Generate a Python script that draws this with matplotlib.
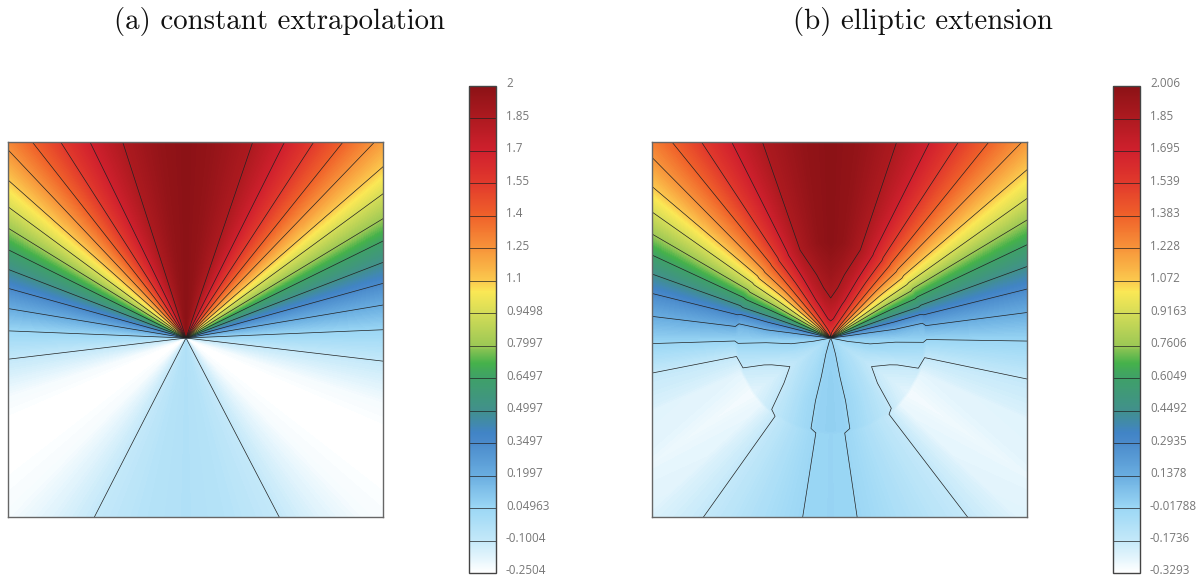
import matplotlib
matplotlib.use("Agg")
import matplotlib.pyplot as plt
import numpy as np
from matplotlib.cm import ScalarMappable
from matplotlib.colors import LinearSegmentedColormap, Normalize

W, H = 1203, 578

# colorbar tick labels
ticks_a = ["2", "1.85", "1.7", "1.55", "1.4", "1.25", "1.1", "0.9498", "0.7997", "0.6497",
           "0.4997", "0.3497", "0.1997", "0.04963", "-0.1004", "-0.2504"]
ticks_b = ["2.006", "1.85", "1.695", "1.539", "1.383", "1.228", "1.072", "0.9163", "0.7606", "0.6049",
           "0.4492", "0.2935", "0.1378", "-0.01788", "-0.1736", "-0.3293"]

# colormap (fraction, colour)
cmap_stops = [(0, "#ffffff"), (0.067, "#c3e8f9"), (0.133, "#9bd7f5"), (0.2, "#69ade0"), (0.267, "#4a8acb"),
              (0.287, "#4184c6"), (0.333, "#41908c"), (0.4, "#3fa068"), (0.431, "#45b14b"), (0.467, "#9cc855"),
              (0.533, "#d4dc57"), (0.578, "#fbe855"), (0.6, "#fbc94e"), (0.667, "#f7943a"), (0.733, "#f0622a"),
              (0.8, "#e23a2c"), (0.867, "#d0202d"), (0.933, "#ae1a20"), (1, "#8c1216")]

# panel a: value against ray angle (deg from straight up), one half per side
angles_a_right = [0, 8, 18.8, 26.7, 33.1, 38.7, 43.9, 49, 53.8, 58.8, 63.8, 69, 74.5, 80.5, 87.6, 96.7,
                  108, 114, 120, 127, 135, 143, 152.5, 166, 180]
angles_a_left = [0, 8, 17.9, 26.1, 32.6, 38.1, 43.4, 48.4, 53.6, 58.3, 63.6, 68.9, 74.4, 80.6, 87.7, 96.8,
                 108, 114, 120, 127, 135, 143, 152.9, 166, 180]
values_a = [2.0, 1.96, 1.85, 1.7, 1.55, 1.4, 1.25, 1.1, 0.9498, 0.7997, 0.6497, 0.4997, 0.3497, 0.1997,
            0.04963, -0.1004, -0.22, -0.245, -0.25, -0.245, -0.225, -0.17, -0.1004, -0.05, -0.03]
radii_a = [0.5, 300]

# panel b: same idea, but the values change with distance from the centre
angles_b_right = [0, 8, 18.6, 26.8, 33.1, 38.9, 44.3, 49.4, 54.6, 59, 64.6, 70, 76, 82.6, 90.9, 101.8,
                  112, 125, 134, 142.6, 158, 171.5, 180]
angles_b_left = [0, 8, 19.2, 26.8, 33.4, 39, 44.7, 49.7, 54.8, 59.8, 65.1, 70.3, 76, 83.1, 91.8, 101.1,
                 112, 125, 134, 144.6, 158, 171, 180]
radii_b = [0.5, 5, 17, 40, 65, 93, 96, 300]
values_b = [
    [1.55, 1.54, 1.5, 1.45, 1.4, 1.32, 1.2, 1.07, 0.92, 0.76, 0.6, 0.45, 0.29, 0.14, 0.03, -0.02, -0.04, -0.06, -0.05, -0.04, -0.02, 0.0, 0.0],
    [1.55, 1.54, 1.5, 1.45, 1.4, 1.32, 1.2, 1.07, 0.92, 0.76, 0.6, 0.45, 0.29, 0.14, 0.03, -0.02, -0.04, -0.06, -0.05, -0.04, -0.02, 0.0, 0.0],
    [1.695, 1.68, 1.6, 1.53, 1.44, 1.34, 1.2, 1.07, 0.92, 0.76, 0.6, 0.45, 0.29, 0.14, 0.03, -0.02, -0.06, -0.1, -0.08, -0.07, -0.03, 0.0, 0.0],
    [1.85, 1.82, 1.72, 1.62, 1.5, 1.37, 1.22, 1.07, 0.92, 0.77, 0.61, 0.46, 0.29, 0.13, 0.01, -0.03, -0.1, -0.15, -0.12, -0.09, -0.05, 0.0, 0.01],
    [1.93, 1.89, 1.79, 1.66, 1.52, 1.38, 1.22, 1.07, 0.92, 0.77, 0.61, 0.46, 0.29, 0.13, 0.0, -0.07, -0.165, -0.21, -0.1736, -0.12, -0.05, 0.0, 0.01],
    [2.0, 1.96, 1.85, 1.7, 1.55, 1.39, 1.24, 1.09, 0.93, 0.78, 0.62, 0.47, 0.27, 0.09, 0.0, -0.11, -0.2, -0.25, -0.21, -0.15, -0.07, 0.0, 0.01],
    [2.006, 1.97, 1.85, 1.695, 1.539, 1.383, 1.228, 1.072, 0.9163, 0.7606, 0.6049, 0.4492, 0.2935, 0.1378, -0.018, -0.1736, -0.26, -0.3, -0.27, -0.1736, -0.09, -0.018, -0.008],
    [2.006, 1.97, 1.85, 1.695, 1.539, 1.383, 1.228, 1.072, 0.9163, 0.7606, 0.6049, 0.4492, 0.2935, 0.1378, -0.018, -0.1736, -0.23, -0.26, -0.24, -0.1736, -0.09, -0.018, -0.008],
]

cmap = LinearSegmentedColormap.from_list("field", cmap_stops, N=512)


def px_axes(fig, left, top, right, bottom):
    return fig.add_axes([left / W, 1 - bottom / H, (right - left) / W, (bottom - top) / H])


def mesh(radii, right, left, rows):
    # columns run from straight down on the left, over the top, to straight down on the right
    theta = np.radians([-a for a in left[:0:-1]] + list(right))
    rows = np.array(rows)
    z = np.hstack([rows[:, :0:-1], rows])
    r, t = np.meshgrid(radii, theta, indexing="ij")
    return r * np.sin(t), r * np.cos(t), z


def panel(fig, box, cbar_box, limits, x, y, z, labels, title, title_x):
    vmax, vmin = float(labels[0]), float(labels[-1])
    levels = sorted(float(v) for v in labels[1:-1])
    ax = px_axes(fig, *box)
    ax.contourf(x, y, z, levels=np.linspace(vmin, vmax, 300), cmap=cmap, extend="both",
                vmin=vmin, vmax=vmax)
    cs = ax.contour(x, y, z, levels=levels, colors="#222222", linewidths=0.5, linestyles="solid")
    ax.set_xlim(limits[0], limits[1])
    ax.set_ylim(limits[2], limits[3])
    ax.set_xticks([])
    ax.set_yticks([])
    for s in ax.spines.values():
        s.set_color("#666666")
        s.set_linewidth(1)

    cax = px_axes(fig, *cbar_box)
    cb = fig.colorbar(ScalarMappable(Normalize(vmin, vmax), cmap), cax=cax)
    cb.add_lines(cs)
    cb.set_ticks([])
    cb.outline.set_edgecolor("#444444")
    cb.outline.set_linewidth(1)
    for lab in labels:
        cax.annotate(lab, xy=(1, float(lab)), xycoords=cax.get_yaxis_transform(),
                     xytext=(10, 2), textcoords="offset pixels", va="center", ha="left",
                     fontsize=8.4, family="Open Sans", color="#777777", annotation_clip=False)
    fig.text(title_x / W, 1 - 22 / H, title, family="cmr10", fontsize=20.8, ha="center", va="center",
             color="#111111")


fig = plt.figure(figsize=(W / 100, H / 100), dpi=100)

xa, ya, za = mesh(radii_a, angles_a_right, angles_a_left, [values_a, values_a])
panel(fig, (8, 142, 383, 517), (469, 86, 496, 573), (-178, 197, -179, 196), xa, ya, za,
      ticks_a, "(a) constant extrapolation", 280)

xb, yb, zb = mesh(radii_b, angles_b_right, angles_b_left, values_b)
panel(fig, (652, 142, 1027, 517), (1113, 86, 1140, 573), (-178.7, 196.3, -179, 196), xb, yb, zb,
      ticks_b, "(b) elliptic extension", 923)

fig.savefig("out.png", dpi=100)
